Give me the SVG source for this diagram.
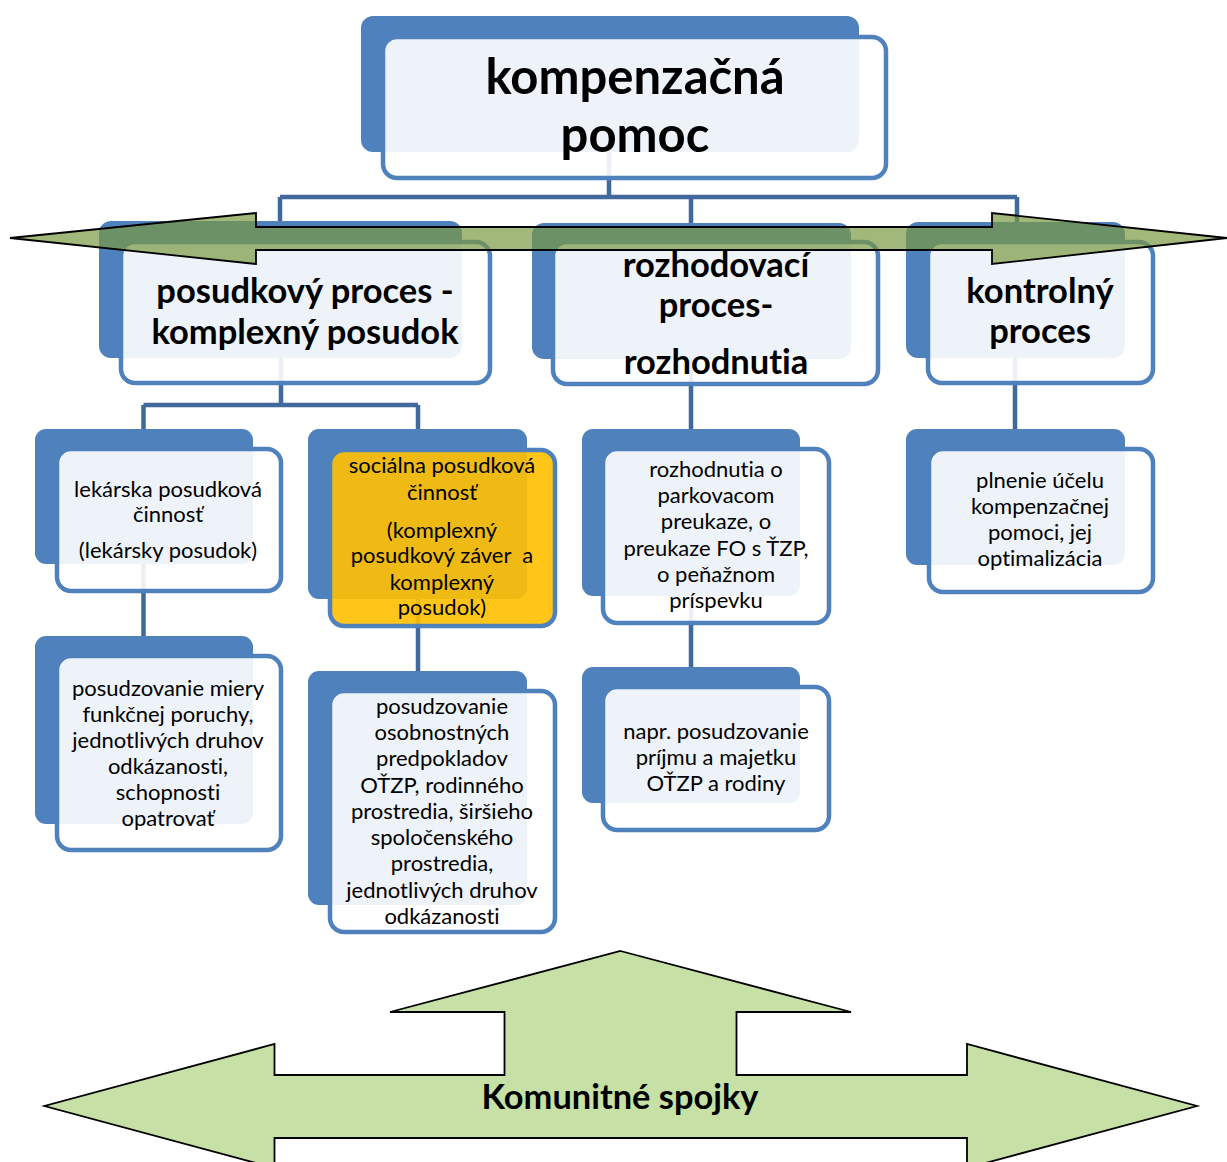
<svg xmlns="http://www.w3.org/2000/svg" width="1227" height="1162" viewBox="0 0 1227 1162">
  <style>
    .back { fill: #4F81BD; }
    .front { fill: #FFFFFF; fill-opacity: 0.9; stroke: #4F81BD; stroke-width: 4.5; }
    .front.hl { fill: #FFC000; }
    .conn { fill: none; stroke: #41699B; stroke-width: 4.5; }
    text { font-family: Lato, "Liberation Sans", sans-serif; fill: #000; text-anchor: middle; font-variant-ligatures: none; }
    .t1 { font-size: 49px; font-weight: bold; }
    .t2 { font-size: 34.5px; font-weight: bold; }
    .t3 { font-size: 22px; }
    .tb { font-size: 34.4px; font-weight: bold; }
    .band { fill: #7A9841; fill-opacity: 0.7; stroke: #000; stroke-width: 1.8; stroke-linejoin: miter; }
    .hub { fill: #C6E0A5; stroke: #000; stroke-width: 1.8; }
  </style>

  <!-- connectors (drawn first, they run under the translucent boxes) -->
  <g id="connectors">
    <path class="conn" d="M609 152 V197 M280 197 H1017 M280 197 V221 M691 197 V223 M1017 197 V222"/>
    <path class="conn" d="M281 358 V405 M143.5 405 H418 M143.5 405 V429 M418 405 V429"/>
    <path class="conn" d="M691 359 V429 M1015 358 V429"/>
    <path class="conn" d="M143.5 564 V636 M418 599 V671 M691 596 V667"/>
  </g>

  <g id="n-kompenzacna">
    <rect class="back" x="361" y="16" width="498" height="136" rx="12"/>
    <rect class="front" x="383" y="37" width="503" height="141" rx="14"/>
    <text class="t1" x="635" y="94">kompenzačná</text>
    <text class="t1" x="635" y="152">pomoc</text>
  </g>

  <g id="n-posudkovy">
    <rect class="back" x="99" y="221" width="363" height="137" rx="12"/>
    <rect class="front" x="121" y="242" width="369" height="141" rx="14"/>
    <text class="t2" x="305" y="303">posudkový proces -</text>
    <text class="t2" x="305" y="344">komplexný posudok</text>
  </g>

  <g id="n-rozhodovaci">
    <rect class="back" x="532" y="223" width="319" height="136" rx="12"/>
    <rect class="front" x="553" y="242" width="325" height="142" rx="14"/>
    <text class="t2" x="716" y="277">rozhodovací</text>
    <text class="t2" x="716" y="317">proces-</text>
    <text class="t2" x="716" y="374">rozhodnutia</text>
  </g>

  <g id="n-kontrolny">
    <rect class="back" x="906" y="222" width="219" height="136" rx="12"/>
    <rect class="front" x="928" y="242" width="225" height="141" rx="14"/>
    <text class="t2" x="1040" y="303">kontrolný</text>
    <text class="t2" x="1040" y="343">proces</text>
  </g>

  <g id="n-lekarska">
    <rect class="back" x="35" y="429" width="218" height="135" rx="11"/>
    <rect class="front" x="57" y="449" width="224" height="142" rx="14"/>
    <text class="t3" x="168" y="497">lekárska posudková</text>
    <text class="t3" x="168" y="522">činnosť</text>
    <text class="t3" x="168" y="558">(lekársky posudok)</text>
  </g>

  <g id="n-socialna">
    <rect class="back" x="308" y="429" width="219" height="170" rx="11"/>
    <rect class="front hl" x="330" y="450" width="225" height="176" rx="14"/>
    <text class="t3" x="442" y="473">sociálna posudková</text>
    <text class="t3" x="442" y="500">činnosť</text>
    <text class="t3" x="442" y="538">(komplexný</text>
    <text class="t3" x="442" y="563" xml:space="preserve">posudkový záver  a</text>
    <text class="t3" x="442" y="590">komplexný</text>
    <text class="t3" x="442" y="615">posudok)</text>
  </g>

  <g id="n-miery">
    <rect class="back" x="35" y="636" width="218" height="188" rx="11"/>
    <rect class="front" x="57" y="656" width="224" height="194" rx="14"/>
    <text class="t3" x="168" y="696">posudzovanie miery</text>
    <text class="t3" x="168" y="722">funkčnej poruchy,</text>
    <text class="t3" x="168" y="748">jednotlivých druhov</text>
    <text class="t3" x="168" y="774">odkázanosti,</text>
    <text class="t3" x="168" y="800">schopnosti</text>
    <text class="t3" x="168" y="826">opatrovať</text>
  </g>

  <g id="n-osobnostnych">
    <rect class="back" x="308" y="671" width="219" height="234" rx="11"/>
    <rect class="front" x="330" y="691" width="225" height="241" rx="14"/>
    <text class="t3" x="442" y="714">posudzovanie</text>
    <text class="t3" x="442" y="740">osobnostných</text>
    <text class="t3" x="442" y="766">predpokladov</text>
    <text class="t3" x="442" y="793">OŤZP, rodinného</text>
    <text class="t3" x="442" y="819">prostredia, širšieho</text>
    <text class="t3" x="442" y="845">spoločenského</text>
    <text class="t3" x="442" y="871">prostredia,</text>
    <text class="t3" x="442" y="898">jednotlivých druhov</text>
    <text class="t3" x="442" y="924">odkázanosti</text>
  </g>

  <g id="n-rozhodnutia">
    <rect class="back" x="582" y="429" width="218" height="167" rx="11"/>
    <rect class="front" x="603" y="449" width="226" height="174" rx="14"/>
    <text class="t3" x="716" y="477">rozhodnutia o</text>
    <text class="t3" x="716" y="503">parkovacom</text>
    <text class="t3" x="716" y="529">preukaze, o</text>
    <text class="t3" x="716" y="556">preukaze FO s ŤZP,</text>
    <text class="t3" x="716" y="582">o peňažnom</text>
    <text class="t3" x="716" y="608">príspevku</text>
  </g>

  <g id="n-napr">
    <rect class="back" x="582" y="667" width="218" height="136" rx="11"/>
    <rect class="front" x="603" y="687" width="226" height="143" rx="14"/>
    <text class="t3" x="716" y="739">napr. posudzovanie</text>
    <text class="t3" x="716" y="765">príjmu a majetku</text>
    <text class="t3" x="716" y="791">OŤZP a rodiny</text>
  </g>

  <g id="n-plnenie">
    <rect class="back" x="906" y="429" width="219" height="136" rx="11"/>
    <rect class="front" x="929" y="449" width="224" height="143" rx="14"/>
    <text class="t3" x="1040" y="488">plnenie účelu</text>
    <text class="t3" x="1040" y="514">kompenzačnej</text>
    <text class="t3" x="1040" y="540">pomoci, jej</text>
    <text class="t3" x="1040" y="566">optimalizácia</text>
  </g>

  <!-- translucent two-headed band across the second level -->
  <g id="band-arrow">
    <path class="band" d="M10 238 L256 213 L256 227 L992 227 L992 213 L1227 238 L992 264 L992 250 L256 250 L256 264 Z"/>
  </g>

  <!-- three-way arrow at the bottom -->
  <g id="n-komunitne">
    <path class="hub" d="M620.5 951 L851 1012 L736.5 1012 L736.5 1075 L967 1075 L967 1044 L1197 1106 L967 1168 L967 1138 L274.5 1138 L274.5 1168 L44.5 1106 L274.5 1044 L274.5 1075 L504.5 1075 L504.5 1012 L390 1012 Z"/>
    <text class="tb" x="620" y="1109">Komunitné spojky</text>
  </g>
</svg>
